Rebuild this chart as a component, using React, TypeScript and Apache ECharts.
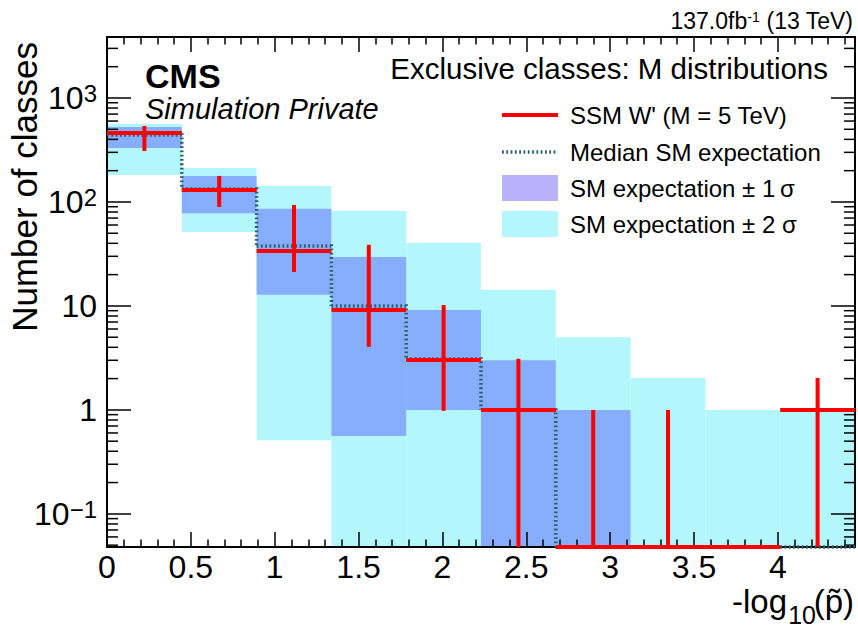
import React, { useEffect, useRef } from 'react';
import * as echarts from 'echarts';

// ---- data ----
const binLow = [0, 0.446, 0.892, 1.338, 1.784, 2.23, 2.676, 3.122, 3.568, 4.014];
const binHigh = [0.446, 0.892, 1.338, 1.784, 2.23, 2.676, 3.122, 3.568, 4.014, 4.46];
const sig2Lo = [182, 51.5, 0.51, 0, 0, 0, 0, 0, 0, 0];
const sig2Hi = [562, 212, 142, 82, 40.3, 14.3, 5.0, 2.03, 1.0, 1.0];
const sig1Lo = [330, 78, 12.8, 0.56, 1.0, 0, 0, 0, 0, 0];
const sig1Hi = [526, 178, 86, 29.6, 9.15, 3.0, 1.0, 0, 0, 0];
const median = [441, 133, 37.8, 10.0, 3.09, 1.0, 0, 0, 0, 0];
const signal = [461, 130, 33.8, 9.15, 3.02, 1.0, 0, 0, 0, 1.0];
const signalErrLo = [309, 89.5, 21.2, 4.04, 0.98, 0, 0, 0, null, 0];
const signalErrHi = [538, 178, 93.6, 38.7, 10.2, 3.1, 1.0, 1.0, null, 2.03];
const yMinorTicks = [
  0.05, 0.06, 0.07, 0.08, 0.09,
  0.2, 0.3, 0.4, 0.5, 0.6, 0.7, 0.8, 0.9,
  2, 3, 4, 5, 6, 7, 8, 9,
  20, 30, 40, 50, 60, 70, 80, 90,
  200, 300, 400, 500, 600, 700, 800, 900,
  2000, 3000,
];
const legendLabels = [
  "SSM W' (M = 5 TeV)",
  'Median SM expectation',
  'SM expectation \u00b1 1\u2009\u03c3',
  'SM expectation \u00b1 2 \u03c3',
];

const X_MIN = 0;
const X_MAX = 4.46;
const Y_MIN = 0.048;
const Y_MAX = 3860;

const FONT = '"Liberation Sans", Arial, Helvetica, sans-serif';
const C_SIG2 = '#b3f7fd';
const C_SIG1 = '#86aefc';
const C_SIG1_LEG = '#b9b2fa';
const C_MED = '#2f6069';
const C_RED = '#ff0000';

const clampY = (v: number | null) => Math.max(v == null ? Y_MIN : v, Y_MIN);

function bandRender(params: any, api: any) {
  const x0 = api.value(0);
  const x1 = api.value(1);
  const lo = clampY(api.value(2));
  const hi = clampY(api.value(3));
  if (!(hi > lo)) return { type: 'group', children: [] };
  const p0 = api.coord([x0, hi]);
  const p1 = api.coord([x1, lo]);
  return {
    type: 'rect',
    shape: { x: p0[0], y: p0[1], width: p1[0] - p0[0], height: p1[1] - p0[1] },
    style: { fill: api.visual('color') },
  };
}

export default function App() {
  const ref = useRef<HTMLDivElement>(null);
  useEffect(() => {
    if (!ref.current) return;
    const chart = echarts.init(ref.current, undefined, { renderer: 'svg' });
    const n = binLow.length;

    const yLabelFmt = (v: number) => {
      const k = Math.log10(v);
      const r = Math.round(k);
      if (Math.abs(k - r) > 1e-6) return '';
      if (r === 0) return '{b|1}';
      if (r === 1) return '{b|10}';
      return '{b|10}{sup|' + (r < 0 ? '\u2212' + -r : String(r)) + '}';
    };
    const xLabelFmt = (v: number) => {
      const r = Math.round(v * 2) / 2;
      if (Math.abs(v - r) > 1e-6) return '';
      return String(r);
    };

    const xAxisBase = {
      type: 'value',
      min: X_MIN,
      max: X_MAX,
      interval: 0.5,
      z: 10,
      axisLine: { show: true, onZero: false, lineStyle: { color: '#000', width: 2 } },
      axisTick: { show: true, inside: true, length: 15, lineStyle: { color: '#000', width: 1.5 } },
      minorTick: { show: true, splitNumber: 5, length: 7.5, lineStyle: { color: '#000', width: 1.5 } },
      splitLine: { show: false },
      minorSplitLine: { show: false },
    };
    const yAxisBase = {
      type: 'log',
      logBase: 10,
      min: Y_MIN,
      max: Y_MAX,
      z: 10,
      axisLine: { show: true, onZero: false, lineStyle: { color: '#000', width: 2 } },
      axisTick: { show: true, inside: true, length: 24, lineStyle: { color: '#000', width: 1.5 } },
      minorTick: { show: false },
      splitLine: { show: false },
      minorSplitLine: { show: false },
    };

    const option: any = {
      animation: false,
      backgroundColor: '#fff',
      grid: { left: 107, right: 2, top: 37, bottom: 81, containLabel: false },
      xAxis: [
        {
          ...xAxisBase,
          position: 'bottom',
          axisLabel: { show: true, fontSize: 32, lineHeight: 30, color: '#000', fontFamily: FONT, margin: 5, formatter: xLabelFmt },
        },
        { ...xAxisBase, position: 'top', axisLabel: { show: false } },
      ],
      yAxis: [
        {
          ...yAxisBase,
          position: 'left',
          axisLabel: {
            show: true,
            fontSize: 32,
            color: '#000',
            fontFamily: FONT,
            margin: 10,
            formatter: yLabelFmt,
            rich: {
              b: { fontSize: 32, lineHeight: 32, verticalAlign: 'bottom', color: '#000', fontFamily: FONT },
              sup: { fontSize: 24, lineHeight: 24, verticalAlign: 'top', padding: [0, 0, 12, 0], color: '#000', fontFamily: FONT },
            },
          },
        },
        { ...yAxisBase, position: 'right', axisLabel: { show: false } },
      ],
      series: [
        {
          type: 'custom',
          name: 'sig2',
          z: 2,
          itemStyle: { color: C_SIG2 },
          encode: { x: [0, 1], y: [3] },
          data: binLow.map((x, i) => [x, binHigh[i], sig2Lo[i], sig2Hi[i]]),
          renderItem: bandRender,
          silent: true,
        },
        {
          type: 'custom',
          name: 'sig1',
          z: 3,
          itemStyle: { color: C_SIG1 },
          encode: { x: [0, 1], y: [3] },
          data: binLow.map((x, i) => [x, binHigh[i], sig1Lo[i], sig1Hi[i]]),
          renderItem: bandRender,
          silent: true,
        },
        {
          type: 'custom',
          name: 'median',
          z: 15,
          encode: { x: [0, 1], y: [2] },
          data: binLow.map((x, i) => [x, binHigh[i], median[i], i < n - 1 ? median[i + 1] : median[i]]),
          renderItem: (params: any, api: any) => {
            const x0 = api.value(0);
            const x1 = api.value(1);
            const m = clampY(api.value(2));
            const mn = clampY(api.value(3));
            const a = api.coord([x0, m]);
            const b = api.coord([x1, m]);
            const c = api.coord([x1, mn]);
            return {
              type: 'polyline',
              shape: { points: [a, b, c] },
              style: { stroke: C_MED, lineWidth: 3.5, lineDash: [1.8, 2.5], fill: null },
            };
          },
          silent: true,
        },
        {
          type: 'custom',
          name: 'signal',
          z: 20,
          encode: { x: [0, 1], y: [2] },
          data: binLow.map((x, i) => [x, binHigh[i], signal[i], signalErrLo[i], signalErrHi[i]]),
          renderItem: (params: any, api: any) => {
            const i = params.dataIndex;
            const x0 = api.value(0);
            const x1 = api.value(1);
            const v = clampY(api.value(2));
            const a = api.coord([x0, v]);
            const b = api.coord([x1, v]);
            const children: any[] = [
              {
                type: 'line',
                shape: { x1: a[0], y1: a[1], x2: b[0], y2: b[1] },
                style: { stroke: C_RED, lineWidth: 4 },
              },
            ];
            const eh = signalErrHi[i];
            if (eh != null) {
              const xc = (x0 + x1) / 2;
              const top = api.coord([xc, clampY(eh)]);
              const bot = api.coord([xc, clampY(signalErrLo[i])]);
              children.push({
                type: 'line',
                shape: { x1: top[0], y1: top[1], x2: bot[0], y2: bot[1] },
                style: { stroke: C_RED, lineWidth: 4 },
              });
            }
            return { type: 'group', children };
          },
          silent: true,
        },
        {
          type: 'custom',
          name: 'yminor',
          z: 12,
          encode: { x: [0], y: [1] },
          data: yMinorTicks.map((v) => [X_MIN, v]),
          renderItem: (params: any, api: any) => {
            const v = api.value(1);
            const l = api.coord([X_MIN, v]);
            const r = api.coord([X_MAX, v]);
            return {
              type: 'group',
              children: [
                { type: 'line', shape: { x1: l[0], y1: l[1], x2: l[0] + 11, y2: l[1] }, style: { stroke: '#000', lineWidth: 1.5 } },
                { type: 'line', shape: { x1: r[0] - 11, y1: r[1], x2: r[0], y2: r[1] }, style: { stroke: '#000', lineWidth: 1.5 } },
              ],
            };
          },
          silent: true,
        },
      ],
      graphic: [
        // axis titles
        {
          type: 'text',
          x: 24,
          y: 42,
          rotation: Math.PI / 2,
          style: { text: 'Number of classes', fontSize: 35, fontFamily: FONT, fill: '#000', align: 'right', verticalAlign: 'middle' },
        },
        {
          type: 'text',
          x: 787,
          y: 601,
          style: { text: '-log', fontSize: 33, fontFamily: FONT, fill: '#000', align: 'right', verticalAlign: 'middle' },
        },
        {
          type: 'text',
          x: 816,
          y: 615,
          style: { text: '10', fontSize: 25, fontFamily: FONT, fill: '#000', align: 'right', verticalAlign: 'middle' },
        },
        {
          type: 'text',
          x: 854,
          y: 601,
          style: { text: '(p\u0303)', fontSize: 33, fontFamily: FONT, fill: '#000', align: 'right', verticalAlign: 'middle' },
        },
        // top right lumi
        {
          type: 'text',
          x: 853,
          y: 21,
          style: {
            text: '137.0fb{sup|-1} (13 TeV)',
            fontSize: 23,
            fontFamily: FONT,
            fill: '#000',
            align: 'right',
            verticalAlign: 'middle',
            rich: {
              sup: { fontSize: 14, lineHeight: 14, verticalAlign: 'top', padding: [0, 0, 10, 0], fontFamily: FONT, fill: '#000' },
            },
          },
        },
        // CMS label
        {
          type: 'text',
          x: 145,
          y: 76,
          style: { text: 'CMS', fontSize: 34, fontWeight: 'bold', fontFamily: FONT, fill: '#000', verticalAlign: 'middle' },
        },
        {
          type: 'text',
          x: 145,
          y: 109,
          style: { text: 'Simulation Private', fontSize: 29, fontStyle: 'italic', fontFamily: FONT, fill: '#000', verticalAlign: 'middle' },
        },
        {
          type: 'text',
          x: 828,
          y: 68,
          style: { text: 'Exclusive classes: M distributions', fontSize: 29.5, fontFamily: FONT, fill: '#000', align: 'right', verticalAlign: 'middle' },
        },
        // legend
        { type: 'line', shape: { x1: 502, y1: 115, x2: 558, y2: 115 }, style: { stroke: C_RED, lineWidth: 4 } },
        { type: 'line', shape: { x1: 502, y1: 152, x2: 558, y2: 152 }, style: { stroke: C_MED, lineWidth: 3.5, lineDash: [1.8, 2.5] } },
        { type: 'rect', shape: { x: 502, y: 175, width: 56, height: 26 }, style: { fill: C_SIG1_LEG } },
        { type: 'rect', shape: { x: 502, y: 211, width: 56, height: 26 }, style: { fill: C_SIG2 } },
        ...legendLabels.map((t, i) => ({
          type: 'text',
          x: 570,
          y: [115, 152, 188, 224][i],
          style: { text: t, fontSize: 24, fontFamily: FONT, fill: '#000', verticalAlign: 'middle' },
        })),
      ],
    };
    chart.setOption(option);
    return () => chart.dispose();
  }, []);
  return <div ref={ref} style={{ position: 'absolute', left: 0, top: 0, width: 858, height: 628 }} />;
}
